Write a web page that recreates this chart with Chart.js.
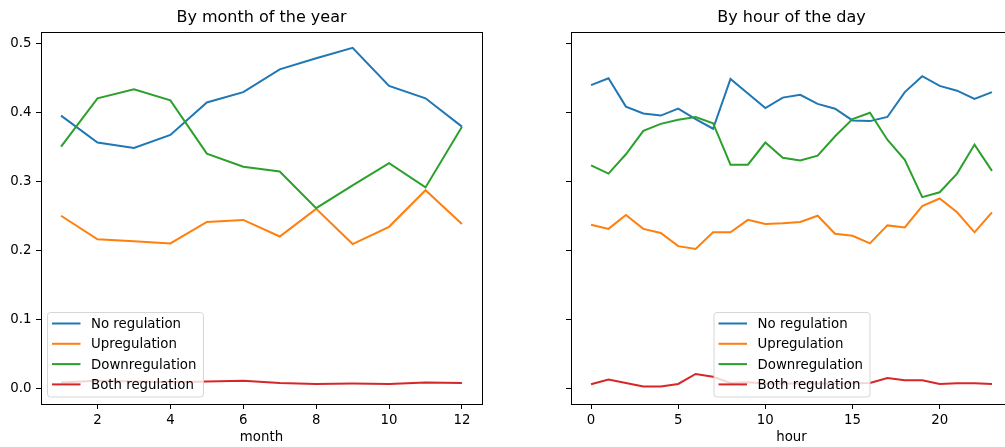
<!DOCTYPE html>
<html>
<head>
<meta charset="utf-8">
<script src="https://cdn.jsdelivr.net/npm/chart.js@4.4.1/dist/chart.umd.min.js"></script>
<style>
  html, body { margin: 0; padding: 0; background: #fff; overflow: hidden; width: 1005px; height: 447px; }
  .box { position: absolute; top: 0; width: 500px; height: 447px; }
  #left-box { left: 0; }
  #right-box { left: 530px; }
</style>
</head>
<body>
<div class="box" id="left-box"><canvas id="monthChart" width="500" height="447"></canvas></div>
<div class="box" id="right-box"><canvas id="hourChart" width="500" height="447"></canvas></div>
<script>
// data
var seriesNames = ['No regulation', 'Upregulation', 'Downregulation', 'Both regulation'];
var seriesColors = ['#1f77b4', '#ff7f0e', '#2ca02c', '#d62728'];

var months = [1, 2, 3, 4, 5, 6, 7, 8, 9, 10, 11, 12];
var monthNoReg = [0.395, 0.356, 0.348, 0.367, 0.414, 0.429, 0.462, 0.478, 0.493, 0.438, 0.420, 0.379];
var monthUpReg = [0.250, 0.216, 0.213, 0.210, 0.241, 0.244, 0.220, 0.260, 0.209, 0.234, 0.287, 0.238];
var monthDownReg = [0.350, 0.420, 0.433, 0.417, 0.340, 0.321, 0.314, 0.261, 0.294, 0.326, 0.291, 0.379];
var monthBothReg = [0.0085, 0.011, 0.010, 0.009, 0.010, 0.011, 0.008, 0.0065, 0.007, 0.0065, 0.0085, 0.008];

var hours = [0, 1, 2, 3, 4, 5, 6, 7, 8, 9, 10, 11, 12, 13, 14, 15, 16, 17, 18, 19, 20, 21, 22, 23];
var hourNoReg = [0.439, 0.449, 0.408, 0.398, 0.395, 0.405, 0.390, 0.376, 0.448, 0.427, 0.406, 0.421,
                 0.425, 0.412, 0.405, 0.388, 0.387, 0.393, 0.429, 0.452, 0.438, 0.431, 0.419, 0.429];
var hourUpReg = [0.237, 0.231, 0.251, 0.231, 0.225, 0.206, 0.202, 0.226, 0.226, 0.244, 0.238, 0.239,
                 0.241, 0.250, 0.224, 0.221, 0.210, 0.236, 0.233, 0.264, 0.275, 0.255, 0.226, 0.255];
var hourDownReg = [0.323, 0.311, 0.339, 0.373, 0.383, 0.389, 0.393, 0.384, 0.324, 0.324, 0.356, 0.334,
                   0.330, 0.337, 0.365, 0.390, 0.399, 0.360, 0.331, 0.277, 0.284, 0.311, 0.353, 0.315];
var hourBothReg = [0.006, 0.013, 0.008, 0.003, 0.003, 0.0065, 0.021, 0.017, 0.008, 0.009, 0.007, 0.007,
                   0.007, 0.007, 0.007, 0.0075, 0.008, 0.015, 0.012, 0.012, 0.0065, 0.0075, 0.0075, 0.0065];

var yTicks = [0.0, 0.1, 0.2, 0.3, 0.4, 0.5];
var monthTicks = [2, 4, 6, 8, 10, 12];
var hourTicks = [0, 5, 10, 15, 20];

Chart.defaults.font.family = '"DejaVu Sans", sans-serif';
Chart.defaults.color = '#000';

// Function to turn x/y arrays into point lists
function toPoints(xs, ys) {
  return xs.map(function(x, i) { return { x: x, y: ys[i] }; });
}

function makeDatasets(xs, lists) {
  return lists.map(function(ys, i) {
    return {
      label: seriesNames[i],
      data: toPoints(xs, ys),
      borderColor: seriesColors[i],
      backgroundColor: seriesColors[i],
      borderWidth: 2,
      pointRadius: 0,
      tension: 0,
      order: lists.length - i
    };
  });
}

// frame around the axes plus a matplotlib style legend
function framePlugin(legendPos) {
  return {
    id: 'frameLegend',
    afterDatasetsDraw: function(chart) {
      var ctx = chart.ctx;
      var a = chart.chartArea;
      ctx.save();
      ctx.strokeStyle = '#000';
      ctx.lineWidth = 1;
      ctx.strokeRect(Math.round(a.left) + 0.5, Math.round(a.top) + 0.5,
                     Math.round(a.right - a.left), Math.round(a.bottom - a.top));

      ctx.font = '13.33px "DejaVu Sans"';
      var maxW = 0;
      seriesNames.forEach(function(n) { maxW = Math.max(maxW, ctx.measureText(n).width); });
      var w = 44 + maxW + 6.5;
      var h = 84.5;
      var x = legendPos === 'left' ? a.left + 6 : (a.left + a.right) / 2 - w / 2;
      var y = a.bottom - 7.5 - h;
      ctx.beginPath();
      if (ctx.roundRect) { ctx.roundRect(x + 0.5, y + 0.5, w, h, 3); } else { ctx.rect(x + 0.5, y + 0.5, w, h); }
      ctx.fillStyle = 'rgba(255,255,255,0.8)';
      ctx.fill();
      ctx.strokeStyle = '#d6d6d6';
      ctx.stroke();

      ctx.textBaseline = 'middle';
      ctx.textAlign = 'left';
      seriesNames.forEach(function(n, i) {
        var cy = y + 11.5 + i * 20.3;
        ctx.beginPath();
        ctx.strokeStyle = seriesColors[i];
        ctx.lineWidth = 2;
        ctx.moveTo(x + 5, cy);
        ctx.lineTo(x + 33.5, cy);
        ctx.stroke();
        ctx.fillStyle = '#000';
        ctx.fillText(n, x + 44, cy + 1);
      });
      ctx.restore();
    }
  };
}

function makeChart(canvasId, title, xLabel, xs, lists, xMin, xMax, xTicks, showY, legendPos) {
  var ctx = document.getElementById(canvasId).getContext('2d');
  return new Chart(ctx, {
    type: 'line',
    data: { datasets: makeDatasets(xs, lists) },
    options: {
      responsive: false,
      animation: false,
      devicePixelRatio: 1,
      layout: { padding: { left: 0, right: 18, top: 0, bottom: 0 } },
      plugins: {
        legend: { display: false },
        tooltip: { enabled: false },
        title: {
          display: true,
          text: title,
          fullSize: false,
          color: '#000',
          font: { size: 16, weight: 'normal' },
          padding: { top: 8.5, bottom: 4.3 }
        }
      },
      scales: {
        x: {
          type: 'linear',
          min: xMin,
          max: xMax,
          afterBuildTicks: function(scale) {
            scale.ticks = xTicks.map(function(v) { return { value: v }; });
          },
          afterFit: function(scale) { scale.height = 43; },
          ticks: {
            padding: 3.5,
            font: { size: 13.33 },
            color: '#000',
            maxRotation: 0,
            callback: function(v) { return String(v); }
          },
          grid: { drawOnChartArea: false, tickLength: 5, tickColor: '#000', tickWidth: 1 },
          border: { display: false },
          title: { display: true, text: xLabel, color: '#000', font: { size: 13.33 }, padding: { top: 0, bottom: 1 } }
        },
        y: {
          type: 'linear',
          min: -0.0225,
          max: 0.516,
          afterBuildTicks: function(scale) {
            scale.ticks = yTicks.map(function(v) { return { value: v }; });
          },
          afterFit: function(scale) { scale.width = 41; },
          ticks: {
            padding: 4.5,
            font: { size: 13.33 },
            color: '#000',
            callback: function(v) { return showY ? Number(v).toFixed(1) : ''; }
          },
          grid: { drawOnChartArea: false, tickLength: 5, tickColor: '#000', tickWidth: 1 },
          border: { display: false }
        }
      }
    },
    plugins: [framePlugin(legendPos)]
  });
}

document.addEventListener('DOMContentLoaded', function() {
  makeChart('monthChart', 'By month of the year', 'month', months,
            [monthNoReg, monthUpReg, monthDownReg, monthBothReg], 0.45, 12.55, monthTicks, true, 'left');
  makeChart('hourChart', 'By hour of the day', 'hour', hours,
            [hourNoReg, hourUpReg, hourDownReg, hourBothReg], -1.15, 24.15, hourTicks, false, 'center');
});
</script>
</body>
</html>
